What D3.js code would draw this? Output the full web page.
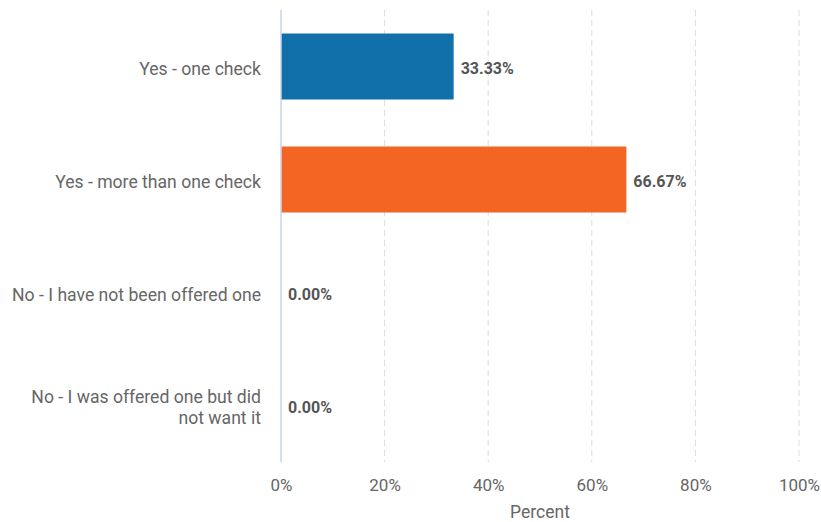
<!DOCTYPE html>
<html>
<head>
<meta charset="utf-8">
<script src="https://cdn.jsdelivr.net/npm/d3@7"></script>
<style>
  html, body { margin: 0; padding: 0; background: #fff; }
  svg { display: block; font-family: Roboto, "Open Sans", sans-serif; }
</style>
</head>
<body>
<svg id="chart" width="821" height="522"></svg>
<script>
const categories = [
  "Yes - one check",
  "Yes - more than one check",
  "No - I have not been offered one",
  "No - I was offered one but did not want it"
];
const categoryLines = [
  ["Yes - one check"],
  ["Yes - more than one check"],
  ["No - I have not been offered one"],
  ["No - I was offered one but did", "not want it"]
];
const percentValues = [33.33, 66.67, 0.00, 0.00];
const barColors = ["#1170aa", "#f26522", "#1170aa", "#1170aa"];
const tickValues = [0, 20, 40, 60, 80, 100];
const axisTitle = "Percent";

const svg = d3.select("#chart");
const margin = { top: 10, right: 22, bottom: 60, left: 281 };
const W = 821, H = 522;
const innerW = W - margin.left - margin.right;
const innerH = H - margin.top - margin.bottom;

const g = svg.append("g").attr("transform", `translate(${margin.left},${margin.top})`);

const x = d3.scaleLinear().domain([0, 100]).range([0, innerW]);
const y = d3.scaleBand().domain(categories).range([0, innerH])
  .paddingInner(0.416).paddingOuter(0.208);

// dashed vertical gridlines
g.append("g").selectAll("line").data(tickValues.filter(t => t > 0)).join("line")
  .attr("x1", d => x(d)).attr("x2", d => x(d))
  .attr("y1", 0).attr("y2", innerH)
  .attr("stroke", "#dcdcdc").attr("stroke-width", 1)
  .attr("stroke-dasharray", "6,4");

// bars
g.append("g").selectAll("rect").data(categories).join("rect")
  .attr("x", 0)
  .attr("y", d => y(d))
  .attr("width", (d, i) => x(percentValues[i]))
  .attr("height", y.bandwidth())
  .attr("fill", (d, i) => barColors[i]);

// value labels
g.append("g").selectAll("text").data(categories).join("text")
  .attr("x", (d, i) => x(percentValues[i]) + 7)
  .attr("y", d => y(d) + y.bandwidth() / 2 + 2)
  .attr("dy", "0.35em")
  .attr("font-size", 16)
  .attr("font-weight", "bold")
  .attr("fill", "#555")
  .text((d, i) => percentValues[i].toFixed(2) + "%");

// left axis line
g.append("line")
  .attr("x1", 0).attr("x2", 0).attr("y1", 0).attr("y2", innerH)
  .attr("stroke", "#c9d5e8").attr("stroke-width", 1.5);

// category labels
const catG = g.append("g");
categories.forEach((c, i) => {
  const lines = categoryLines[i];
  const lh = 21;
  const cy = y(c) + y.bandwidth() / 2 + 2;
  const t = catG.append("text")
    .attr("text-anchor", "end")
    .attr("font-size", 17.6)
    .attr("fill", "#666");
  lines.forEach((ln, j) => {
    t.append("tspan")
      .attr("x", -20)
      .attr("y", cy + (j - (lines.length - 1) / 2) * lh)
      .attr("dy", "0.35em")
      .text(ln);
  });
});

// bottom axis tick labels
const xAxis = d3.axisBottom(x).tickValues(tickValues).tickSize(0).tickPadding(17)
  .tickFormat(d => d + "%");
const ax = g.append("g").attr("transform", `translate(0,${innerH})`).call(xAxis);
ax.select(".domain").remove();
ax.selectAll("text").attr("font-size", 17).attr("fill", "#666")
  .attr("font-family", "Roboto, sans-serif");

// axis title
g.append("text")
  .attr("x", innerW / 2)
  .attr("y", innerH + 56)
  .attr("text-anchor", "middle")
  .attr("font-size", 17.5)
  .attr("fill", "#666")
  .text(axisTitle);
</script>
</body>
</html>
